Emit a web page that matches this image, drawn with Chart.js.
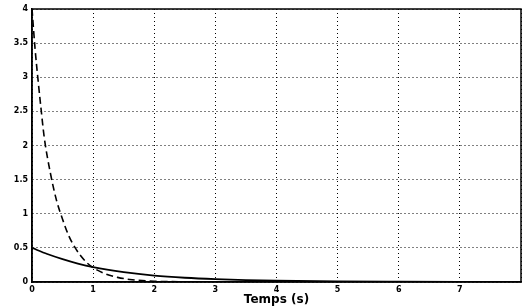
<!DOCTYPE html>
<html>
<head>
<meta charset="utf-8">
<script src="https://cdn.jsdelivr.net/npm/chart.js@4/dist/chart.umd.min.js"></script>
<style>
html,body{margin:0;padding:0;background:#fff;}
#wrap{width:524px;height:308px;}
</style>
</head>
<body>
<div id="wrap"><canvas id="c" width="524" height="308"></canvas></div>
<script>
// Data
const dashedT = [0, 0.05, 0.1, 0.15, 0.2, 0.3, 0.4, 0.5, 0.6, 0.7, 0.8, 0.9, 1.0, 1.2, 1.4, 1.6, 1.8, 2.0, 2.5, 3.0];
const dashedY = [4.0, 3.42, 2.95, 2.52, 2.12, 1.60, 1.20, 0.92, 0.68, 0.51, 0.38, 0.28, 0.21, 0.12, 0.068, 0.037, 0.02, 0.011, 0.003, 0.0];
const solidT = [0, 0.25, 0.5, 0.75, 1.0, 1.5, 2.0, 2.5, 3.0, 3.5, 4.0, 5.0, 6.0, 7.0, 8.0];
const solidY = [0.5, 0.41, 0.335, 0.27, 0.218, 0.145, 0.094, 0.062, 0.041, 0.027, 0.018, 0.008, 0.004, 0.002, 0.001];
const xTickLabels = ['0', '1', '2', '3', '4', '5', '6', '7'];
const yTickLabels = ['0', '0.5', '1', '1.5', '2', '2.5', '3', '3.5', '4'];
const xTitle = 'Temps (s)';

const toPts = (t, y) => t.map((v, i) => ({x: v, y: y[i]}));

const framePlugin = {
  id: 'frame',
  afterDatasetsDraw(chart) {
    const {ctx, chartArea: a} = chart;
    ctx.save();
    ctx.setLineDash([]);
    ctx.strokeStyle = '#000';
    ctx.lineWidth = 1.5;
    ctx.strokeRect(a.left, a.top, a.right - a.left, a.bottom - a.top);
    ctx.restore();
  }
};

const tickFont = {family: 'DejaVu Sans', size: 8, weight: 'bold'};

new Chart(document.getElementById('c'), {
  type: 'line',
  data: {
    datasets: [
      {data: toPts(solidT, solidY), borderColor: '#000', borderWidth: 1.8, pointRadius: 0, fill: false, cubicInterpolationMode: 'monotone'},
      {data: toPts(dashedT, dashedY), borderColor: '#000', borderWidth: 1.6, borderDash: [7, 4], pointRadius: 0, fill: false, cubicInterpolationMode: 'monotone'}
    ]
  },
  options: {
    responsive: false,
    animation: false,
    events: [],
    layout: {padding: {top: 9, right: 1, left: 0, bottom: 0}},
    plugins: {legend: {display: false}, tooltip: {enabled: false}},
    scales: {
      x: {
        type: 'linear', min: 0, max: 8,
        afterFit(s) { s.height = 26; },
        ticks: {
          stepSize: 1, color: '#000', font: tickFont, padding: 3, maxRotation: 0,
          callback: (v) => xTickLabels[v] !== undefined ? xTickLabels[v] : ''
        },
        grid: {color: '#000', lineWidth: 1, drawTicks: false},
        border: {display: true, color: '#000', width: 1.5, dash: [1, 3]},
        title: {display: true, text: xTitle, color: '#000', font: {family: 'DejaVu Sans', size: 12, weight: 'bold'}, padding: {top: 0, bottom: 1}}
      },
      y: {
        min: 0, max: 4,
        afterFit(s) { s.width = 32; },
        ticks: {
          stepSize: 0.5, color: '#000', font: tickFont, padding: 4,
          callback: (v) => yTickLabels[Math.round(v * 2)]
        },
        grid: {color: '#000', lineWidth: 1, drawTicks: false},
        border: {display: true, color: '#000', width: 1.5, dash: [1, 3]}
      }
    }
  },
  plugins: [framePlugin]
});
</script>
</body>
</html>
